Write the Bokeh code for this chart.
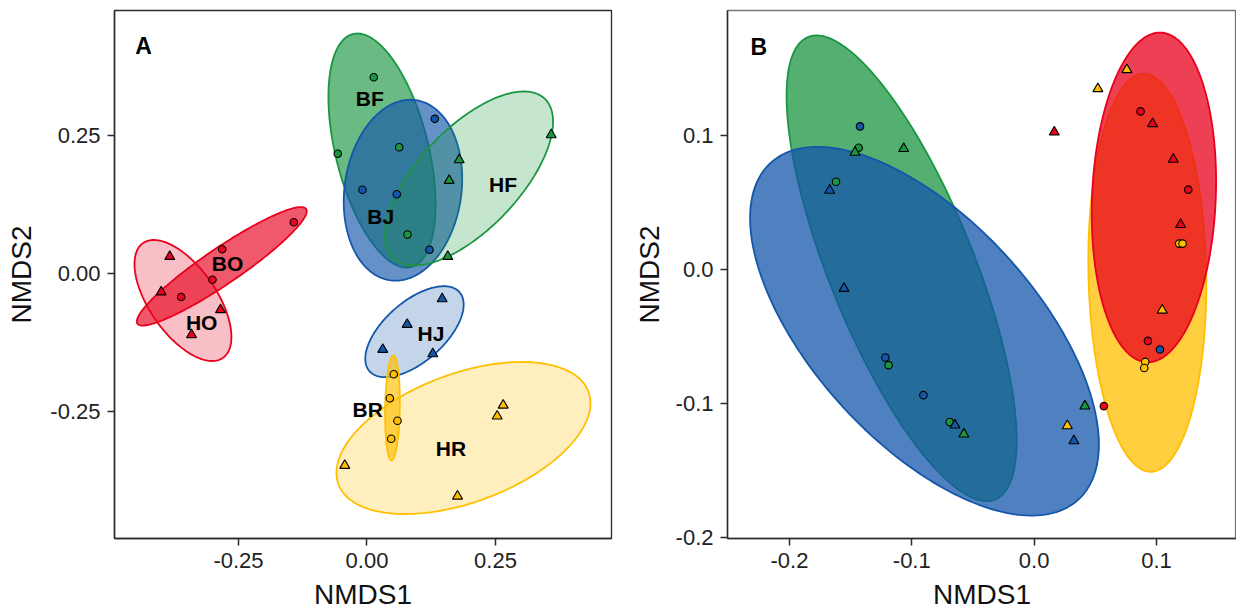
import numpy as np
from bokeh.plotting import figure
from bokeh.layouts import row
from bokeh.models import Range1d, FixedTicker
from bokeh.core.properties import value
from bokeh.embed import file_html
from bokeh.resources import INLINE

# ---------------- Panel A: NMDS scores per site group ----------------
a_group = (["BF"] * 4 + ["BJ"] * 4 + ["HF"] * 4 + ["BO"] * 4 +
           ["HO"] * 4 + ["HJ"] * 4 + ["BR"] * 4 + ["HR"] * 4)
a_nmds1 = [0.0132, -0.0568, 0.0626, 0.0788,
           0.1319, -0.0088, 0.0580, 0.1216,
           0.3584, 0.1794, 0.1599, 0.1572,
           -0.1424, -0.2817, -0.3006, -0.3615,
           -0.3837, -0.4004, -0.2850, -0.3414,
           0.1463, 0.0782, 0.0307, 0.1280,
           0.0521, 0.0444, 0.0593, 0.0471,
           0.2650, 0.2533, -0.0432, 0.1761]
a_nmds2 = [0.3550, 0.2165, 0.2284, 0.0705,
           0.2797, 0.1514, 0.1434, 0.0429,
           0.2508, 0.2056, 0.1682, 0.0307,
           0.0928, 0.0439, -0.0114, -0.0425,
           0.0307, -0.0335, -0.0656, -0.1108,
           -0.0458, -0.0922, -0.1374, -0.1452,
           -0.1821, -0.2255, -0.2664, -0.2989,
           -0.2382, -0.2580, -0.3472, -0.4027]

# group ellipses: centre plus two conjugate semi-axis vectors (data units)
a_ell_group = ["HO", "BO", "BF", "BJ", "HF", "HJ", "HR", "BR"]
a_ell_cx = [-0.3580, -0.2825, 0.0292, 0.0700, 0.1984, 0.0924, 0.1877, 0.0496]
a_ell_cy = [-0.0488, 0.0130, 0.2224, 0.1506, 0.1718, -0.1052, -0.2975, -0.2432]
a_ell_ux = [-0.0776, 0.1641, -0.0565, 0.0249, 0.1473, 0.0876, 0.2432, 0.0018]
a_ell_uy = [0.1038, 0.1037, 0.2106, 0.1629, 0.1443, 0.0714, 0.0836, 0.0949]
a_ell_vx = [-0.0535, -0.0197, -0.0876, -0.1125, -0.0711, -0.0385, -0.0434, -0.0142]
a_ell_vy = [-0.0346, 0.0269, -0.0203, 0.0149, 0.0627, 0.0408, 0.1091, 0.0002]

# group name labels
a_lab_text = ["BF", "BJ", "HF", "BO", "HO", "HJ", "BR", "HR"]
a_lab_x = [0.0053, 0.0268, 0.2646, -0.2714, -0.3216, 0.1245, 0.0014, 0.1634]
a_lab_y = [0.3159, 0.1034, 0.1613, 0.0175, -0.0890, -0.1090, -0.2454, -0.3170]

a_ticks = [-0.25, 0.0, 0.25]
a_tick_labels = ["-0.25", "0.00", "0.25"]

# ---------------- Panel B ----------------
b_group = (["BF"] * 4 + ["HF"] * 4 + ["BJ"] * 4 + ["HJ"] * 4 +
           ["BO"] * 4 + ["HO"] * 4 + ["BR"] * 4 + ["HR"] * 4)
b_nmds1 = [-0.1434, -0.1619, -0.1189, -0.0690,
           -0.1464, -0.1066, -0.0574, 0.0415,
           -0.1423, -0.1216, -0.0905, 0.1028,
           -0.1671, -0.1554, -0.0647, 0.0325,
           0.0870, 0.1260, 0.0930, 0.0570,
           0.0165, 0.0968, 0.1137, 0.1197,
           0.1186, 0.1213, 0.0908, 0.0900,
           0.0758, 0.0521, 0.1047, 0.0271]
b_nmds2 = [0.0912, 0.0658, -0.0711, -0.1136,
           0.0877, 0.0905, -0.1226, -0.1017,
           0.1071, -0.0654, -0.0935, -0.0594,
           0.0594, -0.0139, -0.1159, -0.1276,
           0.1183, 0.0599, -0.0530, -0.1017,
           0.1028, 0.1091, 0.0825, 0.0338,
           0.0196, 0.0196, -0.0687, -0.0732,
           0.1494, 0.1352, -0.0301, -0.1164]

b_ell_habitat = ["F", "J", "R", "O"]
b_ell_cx = [-0.1083, -0.0896, 0.0925, 0.0979]
b_ell_cy = [0.0012, -0.0458, -0.0022, 0.0541]
b_ell_ux = [-0.0764, -0.1257, -0.0031, 0.0057]
b_ell_uy = [0.1726, 0.1257, 0.1485, 0.1230]
b_ell_vx = [-0.0548, -0.0672, -0.0481, -0.0505]
b_ell_vy = [-0.0202, -0.0560, -0.0008, 0.0019]

b_ticks = [-0.2, -0.1, 0.0, 0.1]
b_tick_labels = ["-0.2", "-0.1", "0.0", "0.1"]

# ---------------- styling ----------------
HABITAT_COLOUR = {"F": "#1A9641", "J": "#1456AA", "O": "#E8001C", "R": "#FFBF00"}
FONT = "Liberation Sans"
AXIS_COL = "#2b2b2b"


def ellipse_path(cx, cy, ux, uy, vx, vy, n=240):
    t = np.linspace(0, 2 * np.pi, n)
    return cx + ux * np.cos(t) + vx * np.sin(t), cy + uy * np.cos(t) + vy * np.sin(t)


def make_panel(xr, yr, frame_w, left, right, ticks_x, labels_x, ticks_y, labels_y,
               ylab_standoff):
    p = figure(frame_width=frame_w, frame_height=528,
               min_border_left=left, min_border_right=right,
               min_border_top=10, min_border_bottom=70,
               x_range=Range1d(*xr), y_range=Range1d(*yr),
               output_backend="svg", toolbar_location=None)
    p.xgrid.visible = False
    p.ygrid.visible = False
    p.outline_line_color = AXIS_COL
    p.outline_line_width = 1.3
    p.background_fill_color = "white"
    p.border_fill_color = "white"
    for ax, ticks, labels, name in ((p.xaxis[0], ticks_x, labels_x, "NMDS1"),
                                    (p.yaxis[0], ticks_y, labels_y, "NMDS2")):
        ax.ticker = FixedTicker(ticks=ticks)
        ax.major_label_overrides = {t: l for t, l in zip(ticks, labels)}
        ax.axis_label = name
        ax.axis_label_text_font = FONT
        ax.axis_label_text_font_size = "28px"
        ax.axis_label_text_font_style = "normal"
        ax.axis_label_text_color = "#111111"
        ax.major_label_text_font = FONT
        ax.major_label_text_font_size = "22px"
        ax.major_label_text_color = "#222222"
        ax.axis_line_color = AXIS_COL
        ax.axis_line_width = 1.5
        ax.major_tick_line_color = AXIS_COL
        ax.major_tick_line_width = 1.5
        ax.major_tick_out = 7
        ax.major_tick_in = 0
        ax.minor_tick_line_color = None
        ax.major_label_standoff = 7
    p.xaxis.axis_label_standoff = 8
    p.yaxis.axis_label_standoff = ylab_standoff
    return p


def draw_points(p, groups, xs, ys):
    for g in dict.fromkeys(groups):
        idx = [i for i, gg in enumerate(groups) if gg == g]
        col = HABITAT_COLOUR[g[1]]
        marker = "circle" if g[0] == "B" else "triangle"
        size = 7.5 if marker == "circle" else 10
        p.scatter([xs[i] for i in idx], [ys[i] for i in idx], marker=marker,
                  size=size, fill_color=col, line_color="black", line_width=1.1)


# ---- panel A ----
pa = make_panel((-0.4912, 0.4757), (-0.4792, 0.4756), 497, 114, 6,
                a_ticks, a_tick_labels, a_ticks, a_tick_labels, 10)
for g, cx, cy, ux, uy, vx, vy in zip(a_ell_group, a_ell_cx, a_ell_cy,
                                     a_ell_ux, a_ell_uy, a_ell_vx, a_ell_vy):
    ex, ey = ellipse_path(cx, cy, ux, uy, vx, vy)
    col = HABITAT_COLOUR[g[1]]
    pa.patch(ex, ey, fill_color=col, fill_alpha=0.65 if g[0] == "B" else 0.25,
             line_color=col, line_width=1.8)
draw_points(pa, a_group, a_nmds1, a_nmds2)
pa.text(a_lab_x, a_lab_y, text=a_lab_text, text_font=value(FONT),
        text_font_style="bold", text_font_size="21px", text_color="black",
        text_align="center", text_baseline="middle")
pa.text([-0.4348], [0.4114], text=["A"], text_font=value(FONT),
        text_font_style="bold", text_font_size="23px", text_color="black",
        text_align="center", text_baseline="middle")

# ---- panel B ----
pb = make_panel((-0.2506, 0.1654), (-0.2005, 0.1936), 509, 110, 0,
                b_ticks, b_tick_labels, b_ticks, b_tick_labels, 8)
pb.outline_line_color = "#777777"
for h, cx, cy, ux, uy, vx, vy in zip(b_ell_habitat, b_ell_cx, b_ell_cy,
                                     b_ell_ux, b_ell_uy, b_ell_vx, b_ell_vy):
    ex, ey = ellipse_path(cx, cy, ux, uy, vx, vy)
    col = HABITAT_COLOUR[h]
    pb.patch(ex, ey, fill_color=col, fill_alpha=0.75, line_color=col, line_width=1.8)
draw_points(pb, b_group, b_nmds1, b_nmds2)
pb.text([-0.2251], [0.1667], text=["B"], text_font=value(FONT),
        text_font_style="bold", text_font_size="23px", text_color="black",
        text_align="center", text_baseline="middle")

layout = row(pa, pb, spacing=0)
open("out.html", "w").write(file_html(layout, INLINE))
